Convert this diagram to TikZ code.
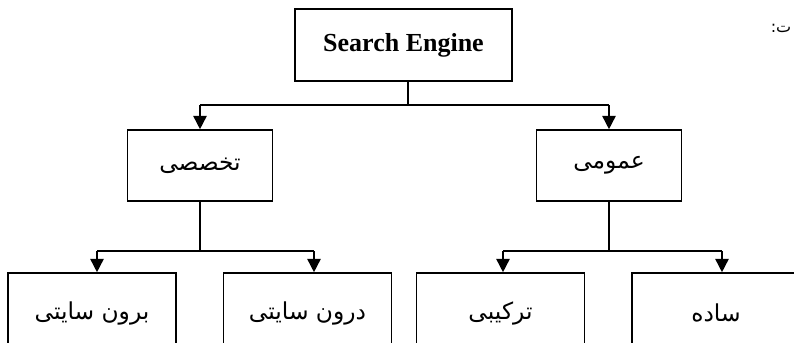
\documentclass[tikz,border=0pt]{standalone}
\usepackage{fontspec}
\setmainfont{Liberation Serif}
\newfontfamily\farsifont[Script=Arabic]{DejaVu Sans}
\TeXXeTstate=1
\usetikzlibrary{arrows.meta}

\newcommand{\fatext}[1]{{\farsifont\beginR #1\endR}}

\tikzset{every picture/.style={line width=1.2pt}}
\tikzset{
  box/.style={draw, inner sep=0.75pt, font=\fontsize{17.5}{20}\selectfont},
  topbox/.style={box, minimum width=162.75pt, minimum height=54pt, font=\bfseries\fontsize{19.5}{22}\selectfont},
  midbox/.style={box, minimum width=108.5pt, minimum height=53.25pt},
  lowbox/.style={box, minimum width=126pt, minimum height=60pt},
  arr/.style={-{Triangle[width=10pt,length=10pt]}}
}

\begin{document}
\begin{tikzpicture}[x=0.75pt,y=0.75pt,yscale=-1,xscale=1]
		\useasboundingbox (0,0) rectangle (794,343);
		\clip (0,0) rectangle (794,343);

		% Text Node
		\node [anchor=east, inner sep=0pt, font=\fontsize{12}{14}\selectfont] (note) at (792,28) {\fatext{ت:}};

		%Shape: Rectangle [id:search]
		\node [topbox] (search) at (403.5,45) {Search Engine};
		%Shape: Rectangle [id:takh]
		\node [midbox] (takh) at (200,165.5) {\fatext{تخصصی}};
		%Shape: Rectangle [id:omoo]
		\node [midbox] (omoo) at (609,165.5) {\fatext{عمومی}};
		%Shape: Rectangle [id:birun]
		\node [lowbox] (birun) at (92,313) {\fatext{برون سایتی}};
		%Shape: Rectangle [id:darun]
		\node [lowbox] (darun) at (307.5,313) {\fatext{درون سایتی}};
		%Shape: Rectangle [id:tark]
		\node [lowbox] (tark) at (500.5,313) {\fatext{ترکیبی}};
		%Shape: Rectangle [id:sade]
		\node [lowbox] (sade) at (716,313) {\fatext{ساده}};

		% Junctions
		\coordinate (top) at (408,105);
		\coordinate (l1) at (97,251);
		\coordinate (l2) at (314,251);
		\coordinate (r1) at (503,251);
		\coordinate (r2) at (722,251);

		%Straight Lines [id:top]
		\draw    (search.south -| top) -- (top) ;
		\draw    (takh.north |- top) -- (omoo.north |- top) ;
		\draw [arr]   (takh.north |- top) -- (takh.north) ;
		\draw [arr]   (omoo.north |- top) -- (omoo.north) ;
		%Straight Lines [id:left]
		\draw    (takh.south) -- (takh.south |- l1) ;
		\draw    (l1) -- (l2) ;
		\draw [arr]   (l1) -- (birun.north -| l1) ;
		\draw [arr]   (l2) -- (darun.north -| l2) ;
		%Straight Lines [id:right]
		\draw    (omoo.south) -- (omoo.south |- r1) ;
		\draw    (r1) -- (r2) ;
		\draw [arr]   (r1) -- (tark.north -| r1) ;
		\draw [arr]   (r2) -- (sade.north -| r2) ;

	\end{tikzpicture}
\end{document}
